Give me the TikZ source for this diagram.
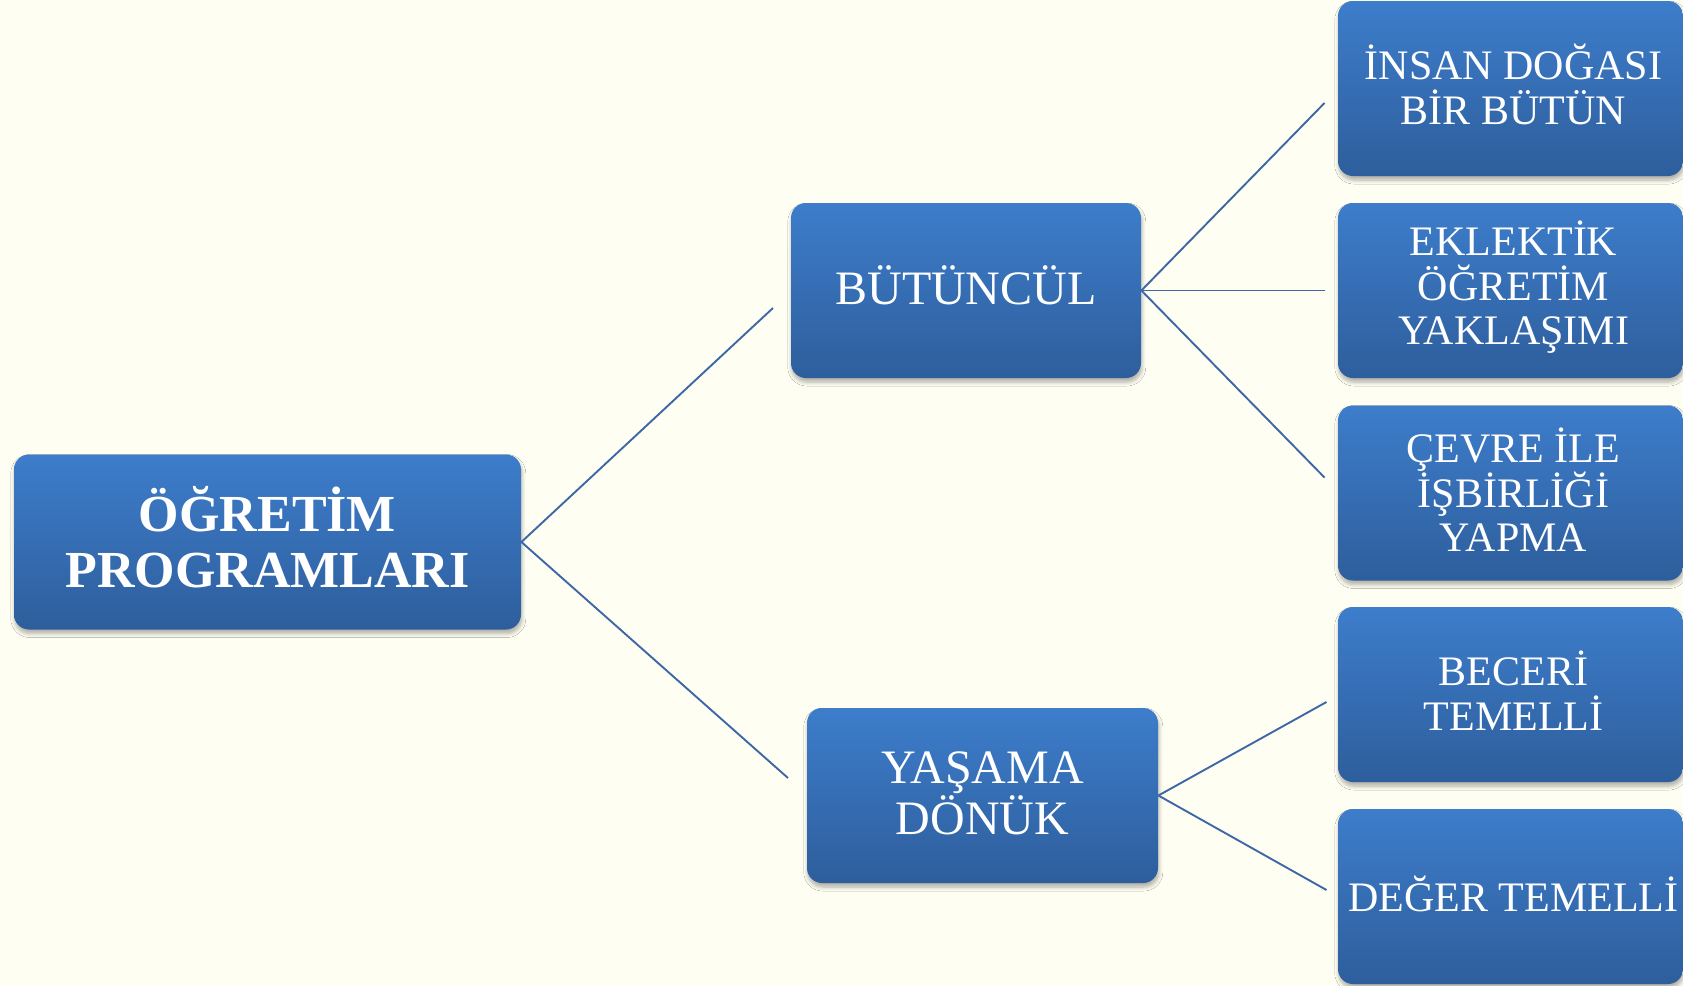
\documentclass[tikz,border=0pt]{standalone}
\usepackage{fontspec}
\setmainfont{Liberation Serif}
\usetikzlibrary{shadows.blur}
\definecolor{bgcol}{RGB}{254,254,243}
\definecolor{boxtop}{RGB}{61,125,203}
\definecolor{boxbot}{RGB}{46,94,156}
\definecolor{linkcol}{RGB}{62,103,166}
\tikzset{
  box/.style={rounded corners=7.5pt, top color=boxtop, bottom color=boxbot,
    draw=none, inner sep=0pt, minimum height=87.5pt,
    blur shadow={shadow xshift=0.4pt, shadow yshift=-2pt, shadow blur radius=2pt, shadow blur steps=6, shadow opacity=32}},
  rootbox/.style={box, minimum width=253.5pt},
  midbox/.style={box, minimum width=175pt},
  leafbox/.style={box, minimum width=172.5pt},
  txt/.style={text=white, align=center, inner sep=0pt},
  roottxt/.style={txt, font=\fontsize{26pt}{28pt}\selectfont\bfseries},
  midtxt/.style={txt, font=\fontsize{24pt}{25.5pt}\selectfont},
  leaftxt/.style={txt, font=\fontsize{21pt}{22.25pt}\selectfont},
  link/.style={draw=linkcol, line width=0.95pt}
}
\begin{document}
\begin{tikzpicture}[x=0.5pt,y=-0.5pt]
\fill[bgcol] (0,0) rectangle (1683,986);
\useasboundingbox (0,0) rectangle (1683,986);

% boxes
\node[rootbox] (root) at (267.5,542) {};
\node[midbox] (but) at (966,290.5) {};
\node[midbox, minimum width=175.5pt] (yas) at (982.5,795.5) {};
\node[leafbox] (l1) at (1510.5,88.5) {};
\node[leafbox] (l2) at (1510.5,290.5) {};
\node[leafbox] (l3) at (1510.5,493) {};
\node[leafbox] (l4) at (1510.5,694.5) {};
\node[leafbox] (l5) at (1510.5,896.5) {};

% texts
\node[roottxt] (troot) at ([yshift=2.5pt]root.center) {ÖĞRETİM\\PROGRAMLARI};
\node[midtxt] (tbut) at ([yshift=2.5pt]but.center) {BÜTÜNCÜL};
\node[midtxt] (tyas) at ([yshift=1pt]yas.center) {YAŞAMA\\DÖNÜK};
\node[leaftxt] (tl1) at ([xshift=1.5pt,yshift=2pt]l1.center) {İNSAN DOĞASI\\BİR BÜTÜN};
\node[leaftxt] (tl2) at ([xshift=1.5pt,yshift=1.5pt]l2.center) {EKLEKTİK\\ÖĞRETİM\\YAKLAŞIMI};
\node[leaftxt] (tl3) at ([xshift=1.5pt,yshift=1.5pt]l3.center) {ÇEVRE İLE\\İŞBİRLİĞİ\\YAPMA};
\node[leaftxt] (tl4) at ([xshift=1.5pt,yshift=2pt]l4.center) {BECERİ\\TEMELLİ};
\node[leaftxt] (tl5) at ([xshift=1.5pt,yshift=1.5pt]l5.center) {DEĞER TEMELLİ};

% free ends of connectors
\coordinate (e1) at (773,308);
\coordinate (e2) at (788,778);
\coordinate (f1) at (1324.5,103);
\coordinate (f2) at (1324.5,290.5);
\coordinate (f3) at (1324.5,477.5);
\coordinate (g1) at (1326.5,702);
\coordinate (g2) at (1326.5,890);

% connectors
\draw[link] (root.east) -- (e1);
\draw[link] (root.east) -- (e2);
\draw[link] (but.east) -- (f1);
\draw[link] (but.east) -- (f2);
\draw[link] (but.east) -- (f3);
\draw[link] (yas.east) -- (g1);
\draw[link] (yas.east) -- (g2);
\end{tikzpicture}
\end{document}
